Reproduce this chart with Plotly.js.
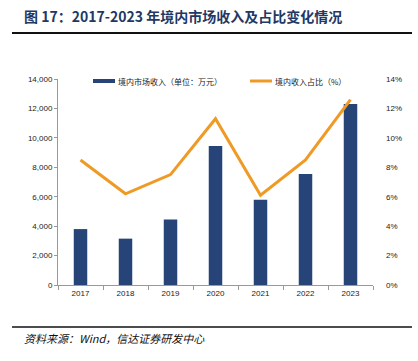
<!DOCTYPE html>
<html><head><meta charset="utf-8">
<script src="https://cdn.plot.ly/plotly-3.0.1.min.js"></script>
<style>html,body{margin:0;padding:0;background:#fff}#c{width:418px;height:361px}</style>
</head><body><div id="c"></div>
<script>
const years = ['2017','2018','2019','2020','2021','2022','2023'];
const revenue = [3800, 3150, 4450, 9450, 5800, 7550, 12300];
const share = [8.5, 6.2, 7.5, 11.3, 6.1, 8.5, 12.6];
const revName = '境内市场收入（单位：万元）';
const shareName = '境内收入占比（%）';
const leftTicks = [0,2000,4000,6000,8000,10000,12000,14000];
const leftLabels = ['0','2,000','4,000','6,000','8,000','10,000','12,000','14,000'];
const rightTicks = [0,2,4,6,8,10,12,14];
const rightLabels = ['0%','2%','4%','6%','8%','10%','12%','14%'];

const navy = '#264478', orange = '#F09A26';
const f = 'Liberation Sans, Arial, Noto Sans CJK SC';
const cjk = 'Noto Sans CJK SC, Liberation Sans';

const data = [
  {type:'bar', x:years, y:revenue, name:revName, marker:{color:navy}, width:0.3, yaxis:'y', showlegend:false},
  {type:'scatter', mode:'lines', x:years, y:share, name:shareName, line:{color:orange, width:3}, yaxis:'y2', showlegend:false}
];
const W=418,H=361, L=58, R=45, T=79, B=76;
const pw=W-L-R, ph=H-T-B;
const px = (x)=>(x-L)/pw, py=(y)=>(H-B-y)/ph;
const layout = {
  width:W, height:H,
  margin:{l:L, r:R, t:T, b:B},
  paper_bgcolor:'#fff', plot_bgcolor:'#fff',
  font:{family:f, size:8, color:'#222'},
  xaxis:{type:'category', showline:true, linecolor:'#999', linewidth:1, ticks:'outside', tickson:'boundaries', ticklen:4, tickcolor:'#999', tickfont:{size:8, family:f}, showgrid:false, zeroline:false},
  yaxis:{range:[0,14000], tickvals:leftTicks, ticktext:leftLabels, showline:true, linecolor:'#999', ticks:'outside', ticklen:3, tickcolor:'#999', showgrid:false, zeroline:false, tickfont:{size:8, family:f}},
  yaxis2:{overlaying:'y', side:'right', range:[0,14], tickvals:rightTicks, ticktext:rightLabels, showline:false, ticks:'', showgrid:false, zeroline:false, ticklabelstandoff:12, tickfont:{size:8, family:f}},
  shapes:[
    {type:'line', xref:'paper', yref:'paper', x0:px(12), x1:px(412), y0:py(33), y1:py(33), line:{color:'#111', width:2}},
    {type:'line', xref:'paper', yref:'paper', x0:px(12), x1:px(412), y0:py(327), y1:py(327), line:{color:'#111', width:1.5}},
    {type:'rect', xref:'paper', yref:'paper', x0:px(93), x1:px(115), y0:py(79), y1:py(83), fillcolor:navy, line:{width:0}},
    {type:'line', xref:'paper', yref:'paper', x0:px(250), x1:px(272), y0:py(81), y1:py(81), line:{color:orange, width:3}}
  ],
  annotations:[
    {xref:'paper', yref:'paper', x:px(22), y:py(16), xanchor:'left', yanchor:'middle', showarrow:false, text:'<b>图 17：2017-2023 年境内市场收入及占比变化情况</b>', font:{family:cjk, size:14, color:'#1F3864'}},
    {xref:'paper', yref:'paper', x:px(22), y:py(338), xanchor:'left', yanchor:'middle', showarrow:false, text:'<i>资料来源：Wind，信达证券研发中心</i>', font:{family:cjk, size:11, color:'#111'}},
    {xref:'paper', yref:'paper', x:px(116), y:py(81), xanchor:'left', yanchor:'middle', showarrow:false, text:revName, font:{family:cjk, size:8, color:'#222'}},
    {xref:'paper', yref:'paper', x:px(273), y:py(81), xanchor:'left', yanchor:'middle', showarrow:false, text:shareName, font:{family:cjk, size:8, color:'#222'}}
  ]
};
Plotly.newPlot('c', data, layout, {displayModeBar:false, staticPlot:true});
</script></body></html>
